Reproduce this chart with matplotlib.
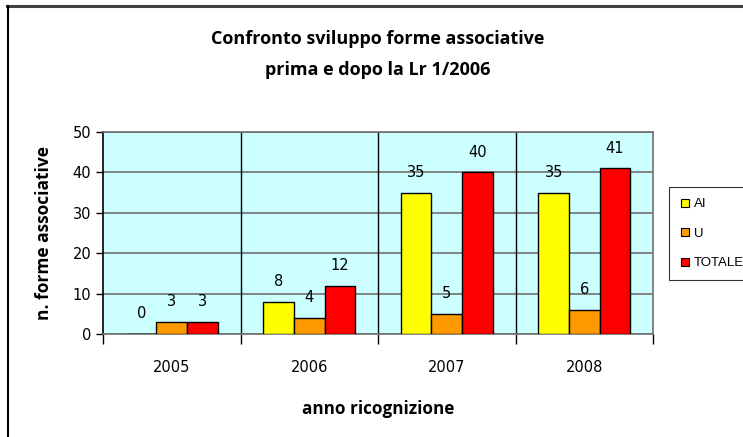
import matplotlib
matplotlib.use("Agg")
import matplotlib.pyplot as plt
import numpy as np
from matplotlib.lines import Line2D

years = ["2005", "2006", "2007", "2008"]
series_names = ["AI", "U", "TOTALE"]
ai = [0, 8, 35, 35]
u = [3, 4, 5, 6]
totale = [3, 12, 40, 41]
colors = ["#FFFF00", "#FF9900", "#FF0000"]
yticks = [0, 10, 20, 30, 40, 50]

fig = plt.figure(figsize=(7.43, 4.37), dpi=100)
ax = fig.add_axes([103/743, 1-334/437, 550/743, 202/437])
ax.set_facecolor("#CCFFFF")

x = np.arange(len(years))
w = 0.222
for i, (vals, c) in enumerate(zip([ai, u, totale], colors)):
    pos = x + (i - 1) * w
    ax.bar(pos, vals, width=w, color=c, edgecolor="black", linewidth=1.0, zorder=3, label=series_names[i])
    for p, v in zip(pos, vals):
        ax.annotate(str(v), (p, v), xytext=(0, 14.5), textcoords="offset points",
                    ha="center", va="center", fontsize=10.5, family="DejaVu Sans", zorder=4)

ax.set_xlim(-0.5, 3.5)
ax.set_ylim(0, 50)
ax.set_yticks(yticks)
ax.yaxis.grid(True, color="#707070", linewidth=1.2, zorder=1)
for b in [0.5, 1.5, 2.5]:
    ax.axvline(b, color="black", linewidth=1.0, zorder=2)

ax.set_xticks([-0.5, 0.5, 1.5, 2.5, 3.5])
ax.set_xticklabels([])
ax.set_xticks(x, minor=True)
ax.set_xticklabels(years, minor=True, fontsize=10.5, family="DejaVu Sans")
ax.tick_params(axis="x", which="major", length=7, color="black", width=1)
ax.tick_params(axis="x", which="minor", length=0, pad=19)
ax.tick_params(axis="y", length=5, width=1, color="black", labelsize=10.5)
for lab in ax.get_yticklabels():
    lab.set_family("DejaVu Sans")

ax.spines["top"].set_color("#707070")
ax.spines["right"].set_color("#707070")
ax.spines["bottom"].set_color("#707070")
ax.spines["left"].set_color("black")
for s in ax.spines.values():
    s.set_linewidth(1.2)

fig.text(378/743, 1-39/437, "Confronto sviluppo forme associative", ha="center", va="center",
         fontsize=13, fontweight="bold", family="Open Sans")
fig.text(378/743, 1-70/437, "prima e dopo la Lr 1/2006", ha="center", va="center",
         fontsize=13, fontweight="bold", family="Open Sans")
fig.text(378/743, 1-409/437, "anno ricognizione", ha="center", va="center",
         fontsize=12.3, fontweight="bold", family="Open Sans")
fig.text(44/743, 1-233/437, "n. forme associative", ha="center", va="center", rotation=90,
         fontsize=12.5, fontweight="bold", family="Open Sans")

handles = [Line2D([], [], marker="s", linestyle="none", markerfacecolor=c, markeredgecolor="black",
                  markersize=6, markeredgewidth=0.8) for c in colors]
leg = fig.legend(handles, series_names, loc="upper left", bbox_to_anchor=(669/743, 1-187/437),
                 frameon=True, fancybox=False, handlelength=0.7, handletextpad=0.35,
                 labelspacing=1.3, borderpad=0.85, borderaxespad=0,
                 prop={"family": "Liberation Sans", "size": 9.5})
leg.get_frame().set_edgecolor("black")
leg.get_frame().set_linewidth(0.8)

fig.add_artist(Line2D([7/743, 1], [1-6/437, 1-6/437], color="#404040", linewidth=2.2))
fig.add_artist(Line2D([8/743, 8/743], [0, 1-6/437], color="black", linewidth=1.5))

fig.savefig("out.png", dpi=100)
